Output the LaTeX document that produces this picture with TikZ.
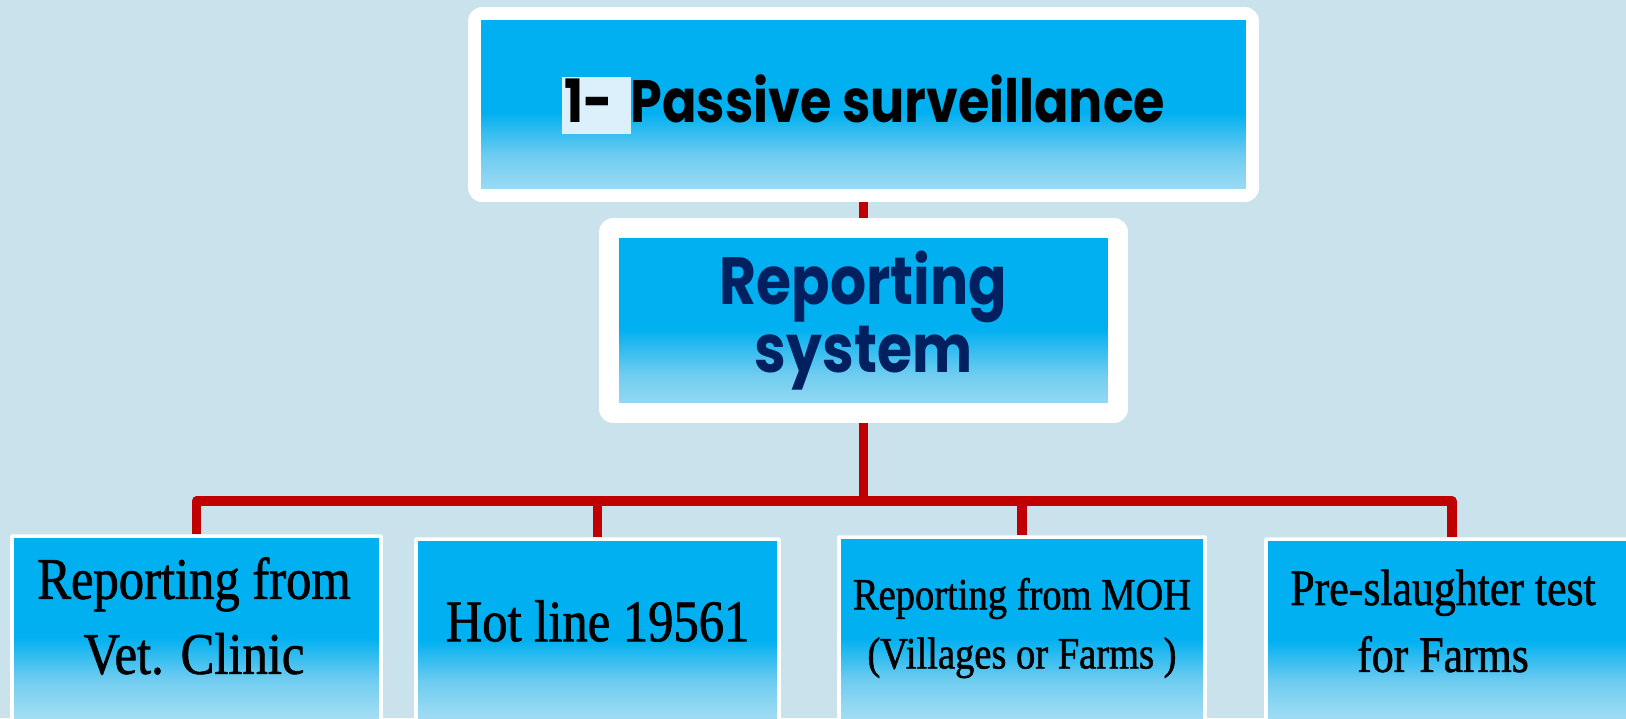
\documentclass[tikz,border=0pt]{standalone}
\usepackage{fontspec}
\usepackage{xcolor}
\usepackage{tikz}
\usetikzlibrary{positioning}

\newfontfamily\gothic[FakeStretch=0.85]{Poppins}
\newfontfamily\leaf[FakeStretch=0.86, FakeBold=1.2]{Liberation Serif}

\definecolor{bg}{RGB}{201,226,236}
\definecolor{skyblue}{RGB}{0,176,240}
\definecolor{midblue}{RGB}{110,204,240}
\definecolor{paleblue}{RGB}{172,224,244}
\definecolor{navy}{RGB}{0,32,96}
\definecolor{darkred}{RGB}{192,0,0}
\definecolor{hilite}{RGB}{220,240,252}

\pgfdeclareverticalshading{boxfade}{100bp}{color(0bp)=(paleblue); color(25bp)=(paleblue); color(37bp)=(midblue); color(48bp)=(skyblue); color(100bp)=(skyblue)}
\setlength{\fboxsep}{1.5pt}
\newcommand{\numbox}[1]{\colorbox{hilite}{\rule[-0.14em]{0pt}{0.7em}#1\hspace{0.25em}}}

\begin{document}
\begin{tikzpicture}[x=0.02cm, y=-0.02cm,
  panel/.style={fill=white, inner sep=0pt, align=center, path picture={\shade[shading=boxfade, sharp corners] ([shift={(#1,-#1)}]path picture bounding box.north west) rectangle ([shift={(-#1,#1)}]path picture bounding box.south east);}},
  leaf/.style={panel=0.08cm, rounded corners=1pt, minimum height=3.8cm, anchor=north},
  leaftext/.style={align=center},
  link/.style={draw=darkred, line width=5.4pt, line join=round}]
\useasboundingbox (0,0) rectangle (1626,718);
\fill[bg] (0,0) rectangle (1626,718);
\node[panel=0.26cm, rounded corners=8pt, minimum width=15.82cm, minimum height=3.9cm, font=\gothic\bfseries\fontsize{34}{40}\selectfont] (passive) at (863.5,104.5) {\raisebox{-3pt}{\numbox{1-}Passive surveillance}};
\node[panel=0.4cm, rounded corners=8pt, minimum width=10.58cm, minimum height=4.1cm, text=navy, font=\gothic\bfseries\fontsize{38}{39}\selectfont] (reporting) at (863.5,320.5) {Reporting\\system};
\node[leaf, minimum width=7.46cm] (vet) at (196.5,534) {};
\node[leaf, minimum width=7.34cm] (hotline) at (597.5,537) {};
\node[leaf, minimum width=7.4cm] (moh) at (1022,535) {};
\node[leaf, minimum width=7.52cm] (farms) at (1452,537) {};
\coordinate (bar) at (863.5,501);
\draw[link] (passive) -- (reporting);
\draw[link] (reporting) -- (bar);
\draw[link] (vet.north) |- (bar) -| (farms.north);
\draw[link] (hotline.north) -- (hotline.north |- bar);
\draw[link] (moh.north) -- (moh.north |- bar);
\node[leaftext, font=\leaf\fontsize{33.5}{42.7}\selectfont] (vettext) at (194,616) {Reporting from\\Vet. Clinic};
\node[leaftext, font=\leaf\fontsize{33.5}{42.7}\selectfont] (hottext) at (597.5,621) {Hot line 19561};
\node[leaftext, font=\leaf\fontsize{25.5}{33.6}\selectfont] (mohtext) at (1022,628) {Reporting from MOH\\(Villages or Farms )};
\node[leaftext, font=\leaf\fontsize{29}{38.1}\selectfont] (farmtext) at (1443,621) {Pre-slaughter test\\for Farms};
\end{tikzpicture}
\end{document}
